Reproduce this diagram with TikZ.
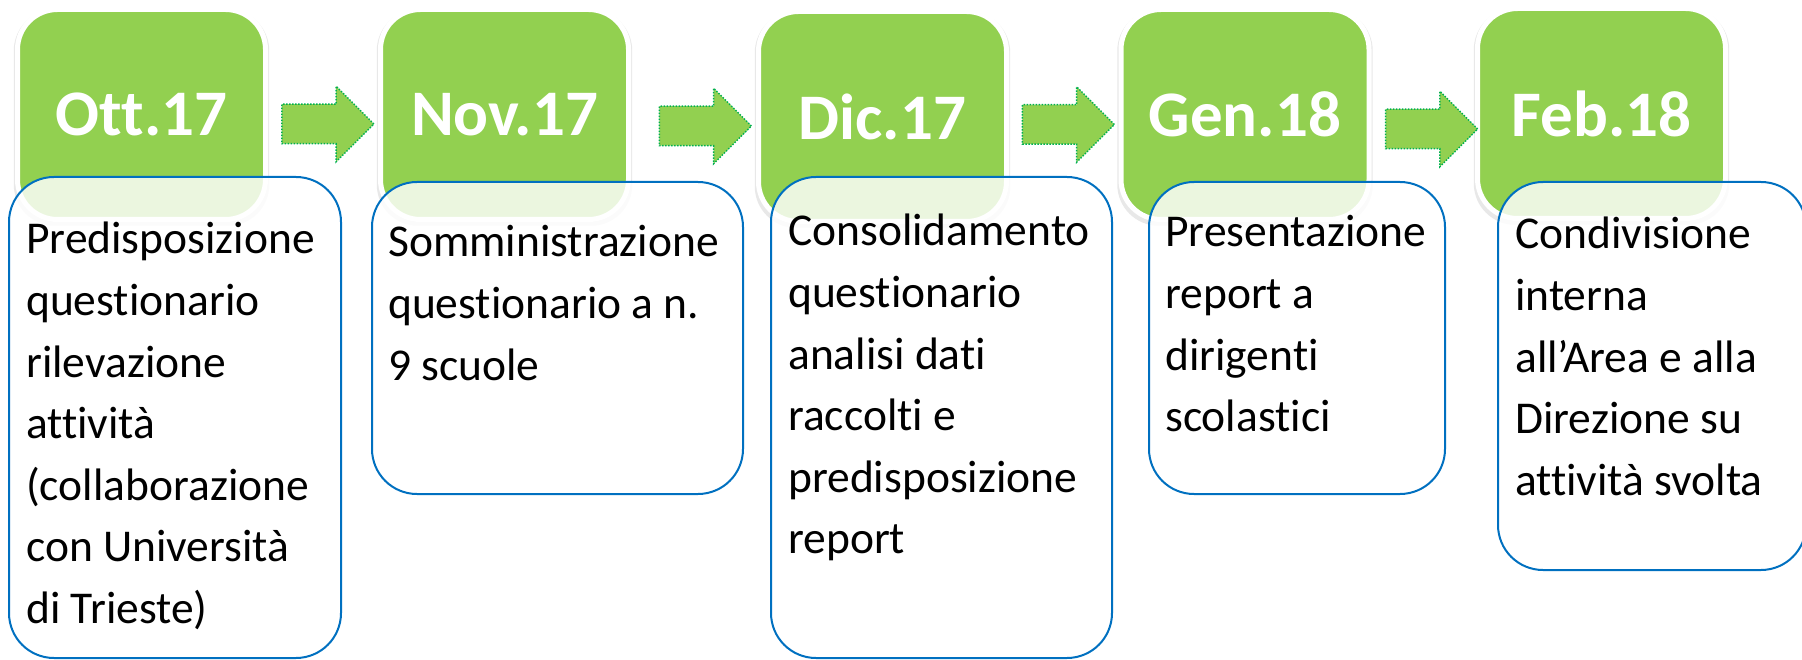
\documentclass[tikz,border=0pt]{standalone}
\usepackage{fontspec}
\setmainfont{Carlito}[Ligatures=NoCommon]
\usepackage{tikz}
\usetikzlibrary{calc,shapes,shapes.arrows,shadows}

\definecolor{datagreen}{HTML}{92D050}
\definecolor{arrowgreen}{HTML}{00B050}
\definecolor{boxblue}{HTML}{0070C0}

\begin{document}
\begin{tikzpicture}[
  x=1pt,
  y=-1pt
]

  \path[use as bounding box] (0,0) rectangle (1802,660);

  \tikzstyle{datenode}=[draw=white,line width=5pt,rectangle,rounded corners=40pt,fill=datagreen,minimum width=248pt,minimum height=210pt,inner sep=0pt,text=white,font=\fontsize{65}{72}\selectfont\bfseries,drop shadow={shadow xshift=0pt,shadow yshift=-3pt,opacity=0.18,shadow scale=1.03}]
  \tikzstyle{steparrow}=[single arrow,draw=arrowgreen,fill=datagreen,line width=1.5pt,dash pattern=on 1.5pt off 1.5pt,minimum height=92pt,inner xsep=0pt,inner ysep=19pt,single arrow head extend=18pt,single arrow head indent=0pt]
  \tikzstyle{descnode}=[draw=boxblue,line width=2pt,rectangle,rounded corners=45pt,fill=white,fill opacity=0.82,inner sep=0pt]
  \tikzstyle{desctext}=[anchor=base west,inner sep=0pt,font=\fontsize{45.5}{61.6}\selectfont]

  % date boxes
  \node[datenode] (ott) at (141.5,114.5) {Ott.17};
  \node[datenode] (nov) at (504.5,114.5) {Nov.17};
  \node[datenode] (dic) at (882.5,116.5) {Dic.17};
  \node[datenode] (gen) at (1245,114.5) {Gen.18};
  \node[datenode] (feb) at (1601.5,113.5) {Feb.18};

  % arrows
  \node[steparrow] (a1) at ($(ott.east)!0.5!(nov.west)+(-5,9.5)$) {};
  \node[steparrow] (a2) at ($(nov.east)!0.5!(dic.west)+(2,10.5)$) {};
  \node[steparrow] (a3) at ($(dic.east)!0.5!(gen.west)+(-5.25,9)$) {};
  \node[steparrow] (a4) at ($(gen.east)!0.5!(feb.west)+(-1.5,15)$) {};

  % description boxes
  \node[descnode,minimum width=332pt,minimum height=481pt] (d1) at (175,417.5) {};
  \node[descnode,minimum width=371pt,minimum height=312pt] (d2) at (557.5,338) {};
  \node[descnode,minimum width=341pt,minimum height=481pt] (d3) at (941.5,417.5) {};
  \node[descnode,minimum width=296pt,minimum height=312pt] (d4) at (1297,338) {};
  \node[descnode,minimum width=308pt,minimum height=388pt] (d5) at (1652,376) {};

  % texts
  \node[desctext] (t1) at ($(d1.north west)+(18,78)$) {\parbox[t]{400pt}{\raggedright Predisposizione\\questionario\\rilevazione\\attività\\(collaborazione\\con Università\\di Trieste)}};
  \node[desctext] (t2) at ($(d2.north west)+(17,76)$) {\parbox[t]{400pt}{\raggedright Somministrazione\\questionario a n.\\9 scuole}};
  \node[desctext] (t3) at ($(d3.north west)+(18,70)$) {\parbox[t]{400pt}{\raggedright Consolidamento\\questionario\\analisi dati\\raccolti e\\predisposizione\\report}};
  \node[desctext] (t4) at ($(d4.north west)+(17,66)$) {\parbox[t]{400pt}{\raggedright Presentazione\\report a\\dirigenti\\scolastici}};
  \node[desctext] (t5) at ($(d5.north west)+(18,68)$) {\parbox[t]{400pt}{\raggedright Condivisione\\interna\\all’Area e alla\\Direzione su\\attività svolta}};

\end{tikzpicture}
\end{document}
